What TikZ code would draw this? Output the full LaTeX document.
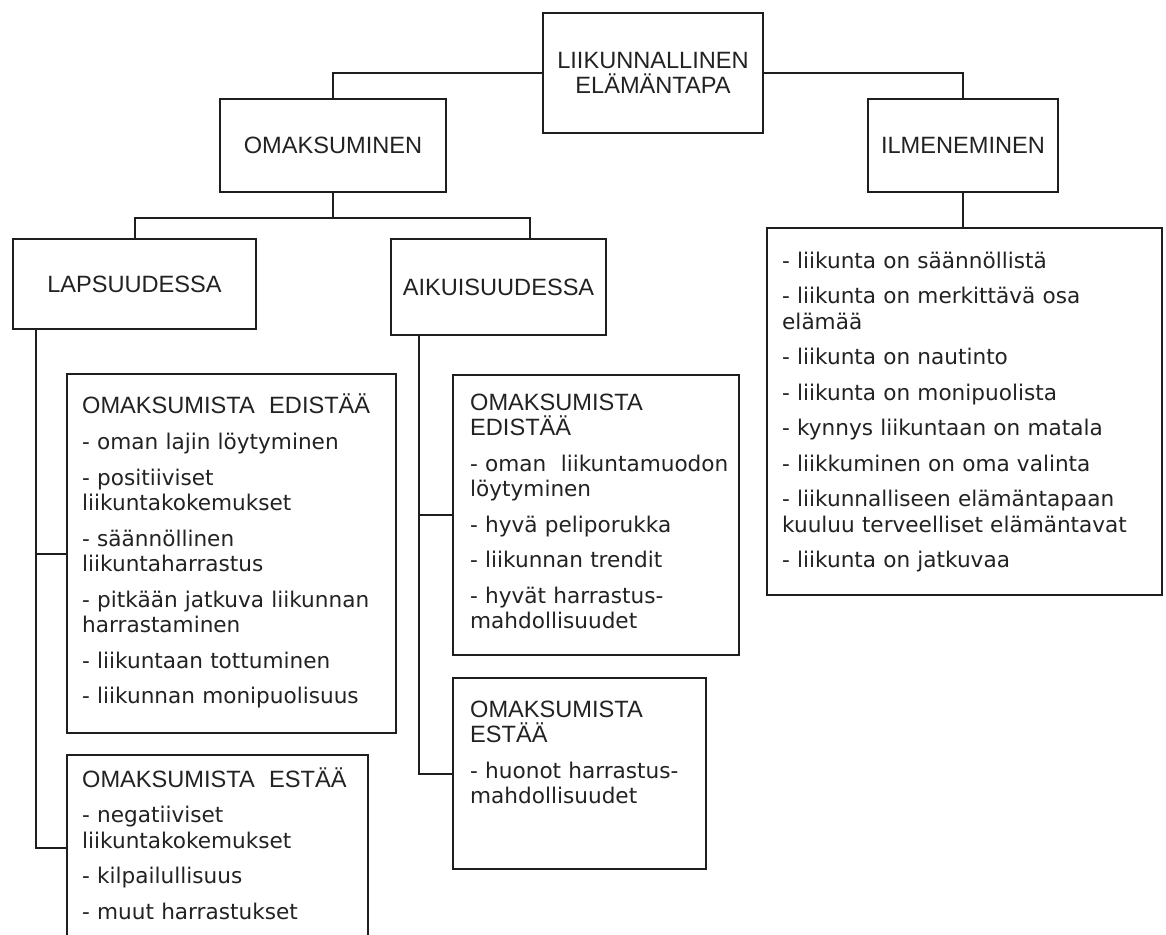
\documentclass[tikz,border=0pt]{standalone}
\usepackage{fontspec}
\setmainfont{Liberation Sans}
\newfontfamily\itemfamily{DejaVu Sans}
\newcommand\boxheadfont{\rmfamily\fontsize{23.6}{25.5}\selectfont}
\newcommand\boxitemfont{\itemfamily\fontsize{21.6}{25.5}\selectfont}
\definecolor{linecol}{HTML}{1E1E1E}
\definecolor{textcol}{HTML}{222222}
\begin{document}
\begin{tikzpicture}[x=1pt,y=-1pt,
  frame/.style={draw=linecol, line width=2pt, inner sep=0pt, fill=white},
  title/.style={frame, align=center, font=\boxheadfont, text=textcol},
  itemlist/.style={anchor=base west, inner sep=0pt, text width=390pt,
    align=left, font=\boxitemfont, text=textcol},
  link/.style={draw=linecol, line width=2pt}]
\useasboundingbox (0,0) rectangle (1166,934);

% heading boxes
\node[title, minimum width=220pt, minimum height=120pt] (top) at (653,73)
  {LIIKUNNALLINEN\\ELÄMÄNTAPA};
\node[title, minimum width=226pt, minimum height=93pt] (omak) at (333,145.5)
  {OMAKSUMINEN};
\node[title, minimum width=190pt, minimum height=93pt] (ilme) at (963,145.5)
  {ILMENEMINEN};
\node[title, minimum width=243pt, minimum height=90pt] (lap) at (134.5,284)
  {LAPSUUDESSA};
\node[title, minimum width=215pt, minimum height=96pt] (aik) at (498.5,287)
  {AIKUISUUDESSA};

% list boxes
\node[frame, minimum width=395pt, minimum height=367pt] (rlist) at (964.5,411.5) {};
\node[frame, minimum width=329pt, minimum height=359pt] (ledis) at (231.5,553.5) {};
\node[frame, minimum width=301pt, minimum height=185pt] (lestaa) at (217.5,847.5) {};
\node[frame, minimum width=286pt, minimum height=280pt] (medis) at (596,515) {};
\node[frame, minimum width=253pt, minimum height=191pt] (mestaa) at (579.5,773.5) {};

% list texts
\node[itemlist] (rlisttext) at (782,268) {%
- liikunta on säännöllistä\\[10pt]
- liikunta on merkittävä osa\\elämää\\[10pt]
- liikunta on nautinto\\[10pt]
- liikunta on monipuolista\\[10pt]
- kynnys liikuntaan on matala\\[10pt]
- liikkuminen on oma valinta\\[10pt]
- liikunnalliseen elämäntapaan\\kuuluu terveelliset elämäntavat\\[10pt]
- liikunta on jatkuvaa};

\node[itemlist] (ledistext) at (82,413) {%
{\boxheadfont OMAKSUMISTA\ \ EDISTÄÄ}\\[11pt]
- oman lajin löytyminen\\[10pt]
- positiiviset\\liikuntakokemukset\\[10pt]
- säännöllinen\\liikuntaharrastus\\[10pt]
- pitkään jatkuva liikunnan\\harrastaminen\\[10pt]
- liikuntaan tottuminen\\[10pt]
- liikunnan monipuolisuus};

\node[itemlist] (lestaatext) at (82,787) {%
{\boxheadfont OMAKSUMISTA\ \ ESTÄÄ}\\[10pt]
- negatiiviset\\liikuntakokemukset\\[10pt]
- kilpailullisuus\\[10pt]
- muut harrastukset};

\node[itemlist] (meditext) at (470,410) {%
{\boxheadfont OMAKSUMISTA}\\{\boxheadfont EDISTÄÄ}\\[10pt]
- oman\ \ liikuntamuodon\\löytyminen\\[10pt]
- hyvä peliporukka\\[10pt]
- liikunnan trendit\\[10pt]
- hyvät harrastus-\\mahdollisuudet};

\node[itemlist] (mestaatext) at (470,717) {%
{\boxheadfont OMAKSUMISTA}\\{\boxheadfont ESTÄÄ}\\[10pt]
- huonot harrastus-\\mahdollisuudet};

% connectors
\coordinate (split) at (333,218);
\draw[link] (top.west) -| (omak.north);
\draw[link] (top.east) -| (ilme.north);
\draw[link] (omak.south) -- (split);
\draw[link] (split) -| (lap.north);
\draw[link] (split) -| ([xshift=31.5pt]aik.north);
\draw[link] (ilme.south) -- (ilme.south |- rlist.north);
\draw[link] ([xshift=24pt]lap.south west) |- (ledis.west);
\draw[link] ([xshift=24pt]lap.south west) |- (lestaa.west);
\draw[link] ([xshift=29pt]aik.south west) |- (medis.west);
\draw[link] ([xshift=29pt]aik.south west) |- (mestaa.west);
\end{tikzpicture}
\end{document}
